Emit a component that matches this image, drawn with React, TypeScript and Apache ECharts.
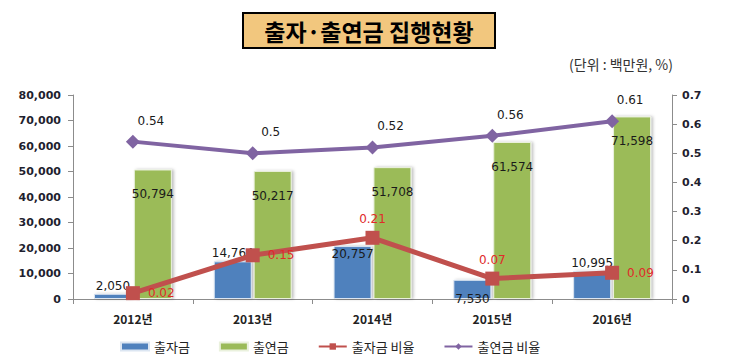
import React, { useEffect, useRef } from "react";
import * as echarts from "echarts";

const categories = ["2012년", "2013년", "2014년", "2015년", "2016년"];
const contribution = [2050, 14764, 20757, 7530, 10995];
const donation = [50794, 50217, 51708, 61574, 71598];
const contributionRatio = [0.02, 0.15, 0.21, 0.07, 0.09];
const donationRatio = [0.54, 0.5, 0.52, 0.56, 0.61];
const leftTicks = { min: 0, max: 80000, interval: 10000 };
const rightTicks = { min: 0, max: 0.7, interval: 0.1 };

const contribLabelPos = ["top", "top", "insideTop", "bottom", "top"];
const contribRatioLabelPos = ["right", "right", "top", "top", "right"];

const NUM_FONT = "'DejaVu Sans', Verdana, sans-serif";
const KR_FONT = "'Noto Sans CJK KR', 'Noto Sans', sans-serif";

const fmt = (v: number) => v.toLocaleString("en-US");

export default function App() {
  const ref = useRef<HTMLDivElement>(null);
  useEffect(() => {
    document.body.style.margin = "0";
    const chart = echarts.init(ref.current!, null, { renderer: "svg" });
    const axisLine = { show: true, lineStyle: { color: "#8c8c8c", width: 1 } };
    chart.setOption({
      animation: false,
      backgroundColor: "#ffffff",
      graphic: [
        {
          type: "rect",
          shape: { x: 243, y: 13, width: 252, height: 35 },
          style: { fill: "#f2c77e", stroke: "#000000", lineWidth: 2 },
        },
        {
          type: "text",
          x: 369,
          y: 31,
          style: {
            text: "출자·출연금 집행현황",
            font: `bold 23px ${KR_FONT}`,
            fill: "#000000",
            align: "center",
            verticalAlign: "middle",
          },
        },
        {
          type: "text",
          x: 673,
          y: 64,
          style: {
            text: "(단위 : 백만원, %)",
            font: `14px ${KR_FONT}`,
            fill: "#333333",
            align: "right",
            verticalAlign: "middle",
          },
        },
      ],
      grid: { left: 73, right: 63, top: 95, bottom: 57, containLabel: false },
      legend: {
        left: 115,
        top: 335,
        itemWidth: 28,
        itemHeight: 8,
        itemGap: 29,
        textStyle: { fontFamily: KR_FONT, fontSize: 13, color: "#222222" },
        data: [
          { name: "출자금", icon: "rect" },
          { name: "출연금", icon: "rect" },
          { name: "출자금 비율" },
          { name: "출연금 비율" },
        ],
      },
      xAxis: {
        type: "category",
        data: categories,
        axisLine,
        axisTick: { show: true, length: 5, lineStyle: { color: "#8c8c8c" } },
        axisLabel: {
          fontFamily: KR_FONT,
          fontWeight: "bold",
          fontSize: 12,
          color: "#222222",
          margin: 13,
        },
      },
      yAxis: [
        {
          type: "value",
          ...leftTicks,
          axisLine,
          axisTick: { show: true, length: 5, lineStyle: { color: "#8c8c8c" } },
          splitLine: { show: false },
          axisLabel: {
            fontFamily: NUM_FONT,
            fontWeight: "bold",
            fontSize: 11,
            color: "#1f1f2f",
            margin: 12,
            formatter: (v: number) => fmt(v),
          },
        },
        {
          type: "value",
          ...rightTicks,
          axisLine,
          axisTick: { show: true, length: 5, lineStyle: { color: "#8c8c8c" } },
          splitLine: { show: false },
          axisLabel: {
            fontFamily: NUM_FONT,
            fontWeight: "bold",
            fontSize: 11,
            color: "#1f1f2f",
            margin: 10,
            formatter: (v: number) => String(Math.round(v * 10) / 10),
          },
        },
      ],
      series: [
        {
          name: "출자금",
          type: "bar",
          yAxisIndex: 0,
          barWidth: 38,
          barGap: "5%",
          itemStyle: {
            color: "#4f81bd",
            borderColor: "#dce6f2",
            borderWidth: 1,
            shadowColor: "rgba(0,0,0,0.25)",
            shadowBlur: 3,
            shadowOffsetX: 2,
          },
          data: contribution.map((v, i) => ({
            value: v,
            label: { position: contribLabelPos[i], distance: contribLabelPos[i] === "bottom" ? -6 : 2 },
          })),
          label: {
            show: true,
            fontFamily: NUM_FONT,
            fontSize: 12,
            color: "#1a1a1a",
            formatter: (p: any) => fmt(p.value),
          },
        },
        {
          name: "출연금",
          type: "bar",
          yAxisIndex: 0,
          barWidth: 38,
          itemStyle: {
            color: "#9bbb59",
            borderColor: "#eaf1dd",
            borderWidth: 1,
            shadowColor: "rgba(0,0,0,0.25)",
            shadowBlur: 3,
            shadowOffsetX: 2,
          },
          data: donation,
          label: {
            show: true,
            position: "insideTop",
            distance: 19,
            fontFamily: NUM_FONT,
            fontSize: 12,
            color: "#1a1a1a",
            formatter: (p: any) => fmt(p.value),
          },
        },
        {
          name: "출자금 비율",
          type: "line",
          yAxisIndex: 1,
          symbol: "rect",
          symbolSize: 14,
          lineStyle: { color: "#c0504d", width: 5 },
          itemStyle: { color: "#c0504d" },
          z: 5,
          data: contributionRatio.map((v, i) => ({
            value: v,
            label: { position: contribRatioLabelPos[i], distance: contribRatioLabelPos[i] === "right" ? 8 : 6 },
          })),
          label: {
            show: true,
            fontFamily: NUM_FONT,
            fontSize: 12,
            color: "#e02a2a",
          },
        },
        {
          name: "출연금 비율",
          type: "line",
          yAxisIndex: 1,
          symbol: "diamond",
          symbolSize: 14,
          lineStyle: { color: "#8064a2", width: 4 },
          itemStyle: { color: "#8064a2" },
          z: 5,
          data: donationRatio,
          label: {
            show: true,
            position: "top",
            distance: 8,
            offset: [18, 0],
            fontFamily: NUM_FONT,
            fontSize: 12,
            color: "#1a1a1a",
          },
        },
      ],
    });
    return () => chart.dispose();
  }, []);
  return <div ref={ref} style={{ width: 735, height: 356 }} />;
}
